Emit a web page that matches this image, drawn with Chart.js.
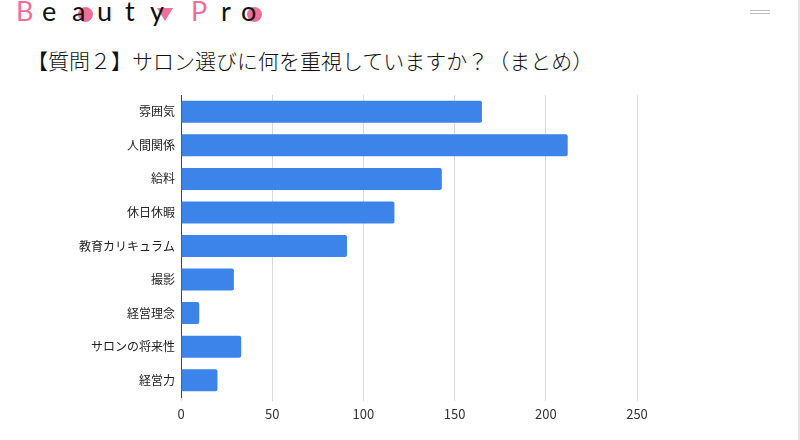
<!DOCTYPE html>
<html>

<head>
    <meta charset="utf-8">
    <style>
        body {
            margin: 0;
            background: #fff;
            font-family: "Noto Sans CJK JP", sans-serif;
        }

        #page {
            position: relative;
            width: 800px;
            height: 440px;
            overflow: hidden;
        }

        .logo span {
            position: absolute;
            top: -6px;
            font-family: "Lato", sans-serif;
            font-weight: 400;
            font-size: 27px;
            color: #111;
        }

        .dot {
            position: absolute;
            top: 7px;
            width: 15px;
            height: 15px;
            border-radius: 50%;
            background: #ef6f96;
        }

        #title {
            position: absolute;
            left: 27px;
            top: 45px;
            font-size: 21px;
            font-weight: 300;
            color: #111;
            white-space: nowrap;
        }

        #container {
            position: absolute;
            left: 0;
            top: 0;
            width: 800px;
            height: 440px;
        }
    </style>
    <title>Beauty Pro</title>
</head>

<body>
    <div id="page">
        <div class="logo">
            <div class="dot" style="left:78px"></div>
            <div style="position:absolute;left:157px;top:8px;width:0;height:0;border-left:8px solid transparent;border-right:8px solid transparent;border-top:13px solid #ef6f96"></div>
            <div class="dot" style="left:247px"></div>
            <span style="left:16px;color:#ef6f96">B</span>
            <span style="left:42px">e</span>
            <span style="left:72px">a</span>
            <span style="left:97px">u</span>
            <span style="left:125px">t</span>
            <span style="left:150px">y</span>
            <span style="left:191px;color:#ef6f96">P</span>
            <span style="left:221px">r</span>
            <span style="left:241px">o</span>
        </div>
        <div style="position:absolute;left:750px;top:10px;width:20px;border-top:1px solid #bbb"></div>
        <div style="position:absolute;left:750px;top:13px;width:20px;border-top:1px solid #bbb"></div>
        <div style="position:absolute;left:798px;top:0;height:440px;border-left:2px solid #e4e4e4"></div>
        <div id="title">【質問２】サロン選びに何を重視していますか？（まとめ）</div>
        <div id="container">
            <canvas id="canvas" width="800" height="440"></canvas>
        </div>
    </div>
    <script src="https://cdn.jsdelivr.net/npm/chart.js@4/dist/chart.umd.min.js"></script>
    <script>
        var categories = ['雰囲気', '人間関係', '給料', '休日休暇', '教育カリキュラム', '撮影', '経営理念', 'サロンの将来性', '経営力'];
        var counts = [165, 212, 143, 117, 91, 29, 10, 33, 20];
        var xTicks = [0, 50, 100, 150, 200, 250];

        var ctx = document.getElementById('canvas').getContext('2d');
        new Chart(ctx, {
            type: 'bar',
            data: {
                labels: categories,
                datasets: [{
                    data: counts,
                    backgroundColor: '#3c83ea',
                    borderColor: '#3c83ea',
                    borderWidth: 0,
                    borderRadius: 2,
                    borderSkipped: 'start',
                    barPercentage: 0.82,
                    categoryPercentage: 0.8
                }]
            },
            options: {
                indexAxis: 'y',
                responsive: false,
                animation: false,
                layout: {
                    padding: { top: 95, right: 163, bottom: 16, left: 0 }
                },
                plugins: {
                    legend: { display: false },
                    tooltip: { enabled: false }
                },
                scales: {
                    x: {
                        min: 0,
                        max: 250,
                        afterBuildTicks: function(s) {
                            s.ticks = xTicks.map(function(v) { return { value: v }; });
                        },
                        afterFit: function(s) { s.height = 27; },
                        grid: { color: '#d9d9d9', tickLength: 4, drawTicks: true },
                        border: { display: false },
                        ticks: {
                            padding: 5,
                            color: '#333',
                            font: { family: 'Noto Sans CJK JP', size: 13 }
                        }
                    },
                    y: {
                        afterFit: function(s) { s.width = 181; },
                        grid: { display: false, drawTicks: false },
                        border: { display: true, color: '#444', width: 1 },
                        ticks: {
                            padding: 6,
                            color: '#222',
                            font: { family: 'Noto Sans CJK JP', size: 12 }
                        }
                    }
                }
            }
        });
    </script>
</body>

</html>
